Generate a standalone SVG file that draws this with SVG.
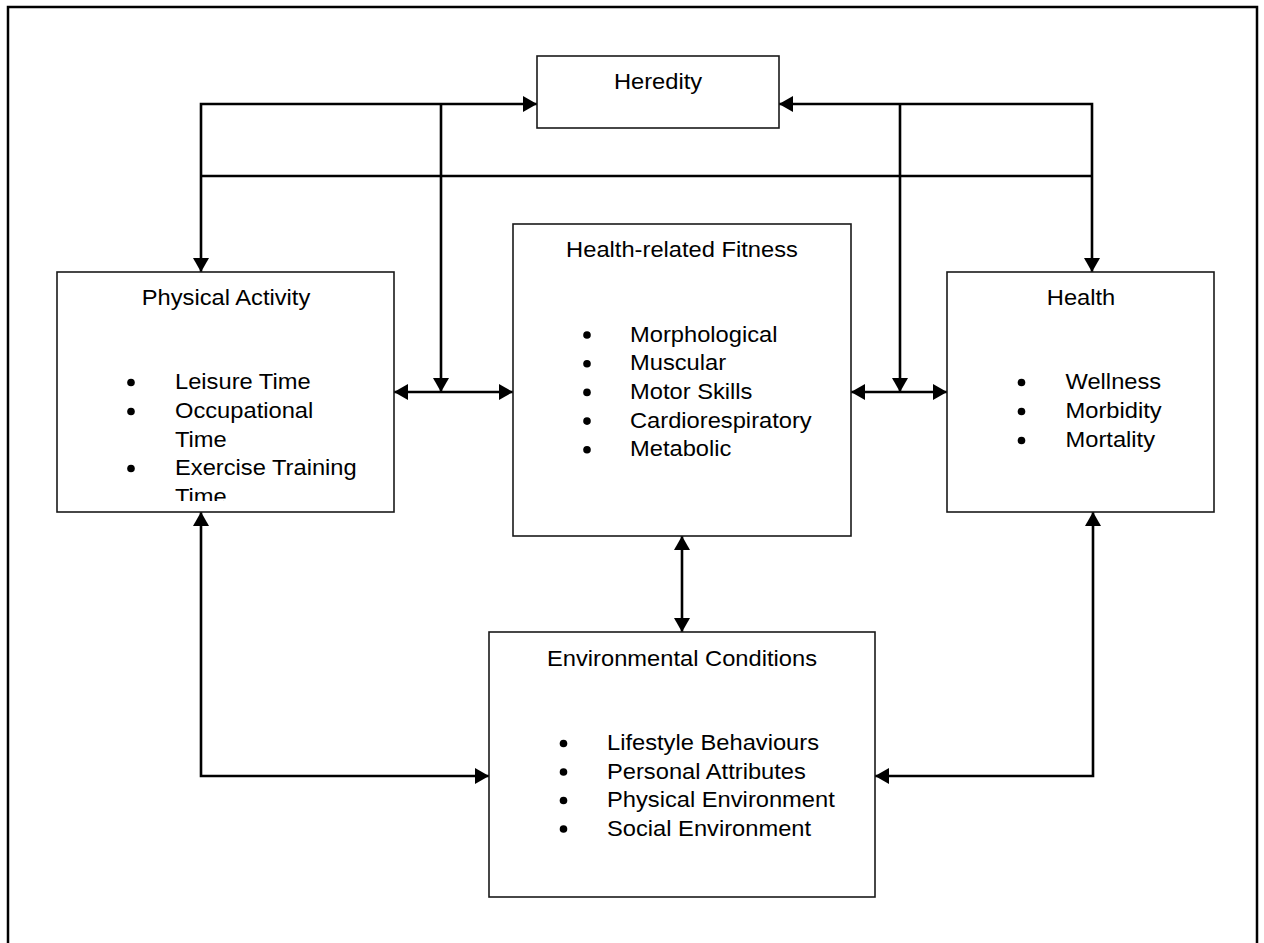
<svg xmlns="http://www.w3.org/2000/svg" width="1264" height="943" viewBox="0 0 1264 943">
  <style>
    .frame { fill: none; stroke: #000; stroke-width: 2.5; }
    .box { fill: #fff; stroke: #1a1a1a; stroke-width: 1.6; }
    .link { fill: none; stroke: #000; stroke-width: 2.6; }
    .t { font-family: "Liberation Sans", Arial, sans-serif; font-size: 22px; fill: #000; }
    .c { text-anchor: middle; }
    .dot { fill: #000; }
  </style>
  <defs>
    <marker id="arrow" viewBox="0 0 14 16" refX="14" refY="8" markerWidth="14" markerHeight="16" markerUnits="userSpaceOnUse" orient="auto-start-reverse">
      <path d="M0 0 L14 8 L0 16 Z" fill="#000"/>
    </marker>
    <clipPath id="paClip">
      <rect x="57" y="272" width="337" height="229"/>
    </clipPath>
  </defs>

  <!-- page frame, open at the bottom -->
  <path class="frame" d="M8 943 V7 H1257 V943"/>

  <!-- connectors -->
  <g id="connectors">
    <!-- Heredity to Physical Activity -->
    <path class="link" d="M201 272 V104 H537" marker-start="url(#arrow)" marker-end="url(#arrow)"/>
    <!-- Heredity to Health -->
    <path class="link" d="M1092 272 V104 H779" marker-start="url(#arrow)" marker-end="url(#arrow)"/>
    <!-- cross bar joining both branches -->
    <path class="link" d="M201 176 H1092"/>
    <!-- Heredity drops onto the side links -->
    <path class="link" d="M441 104 V392" marker-end="url(#arrow)"/>
    <path class="link" d="M900 104 V392" marker-end="url(#arrow)"/>
    <!-- Physical Activity <-> Health-related Fitness -->
    <path class="link" d="M394 392 H513" marker-start="url(#arrow)" marker-end="url(#arrow)"/>
    <!-- Health-related Fitness <-> Health -->
    <path class="link" d="M851 392 H947" marker-start="url(#arrow)" marker-end="url(#arrow)"/>
    <!-- Health-related Fitness <-> Environmental Conditions -->
    <path class="link" d="M682 536 V632" marker-start="url(#arrow)" marker-end="url(#arrow)"/>
    <!-- Physical Activity <-> Environmental Conditions -->
    <path class="link" d="M201 512 V776 H489" marker-start="url(#arrow)" marker-end="url(#arrow)"/>
    <!-- Health <-> Environmental Conditions -->
    <path class="link" d="M1093 512 V776 H875" marker-start="url(#arrow)" marker-end="url(#arrow)"/>
  </g>

  <g id="heredity">
    <rect class="box" x="537" y="56" width="242" height="72"/>
    <text class="t c" transform="translate(658 89) scale(1.077 1)">Heredity</text>
  </g>

  <g id="physical-activity">
    <rect class="box" x="57" y="272" width="337" height="240"/>
    <text class="t c" transform="translate(226 305) scale(1.077 1)">Physical Activity</text>
    <g clip-path="url(#paClip)">
      <circle class="dot" cx="131" cy="382.5" r="3.8"/>
      <circle class="dot" cx="131" cy="411.5" r="3.8"/>
      <circle class="dot" cx="131" cy="468.5" r="3.8"/>
      <text class="t" transform="translate(175 389) scale(1.077 1)">Leisure Time</text>
      <text class="t" transform="translate(175 418) scale(1.077 1)">Occupational</text>
      <text class="t" transform="translate(175 446.5) scale(1.077 1)">Time</text>
      <text class="t" transform="translate(175 475) scale(1.077 1)">Exercise Training</text>
      <text class="t" transform="translate(175 504) scale(1.077 1)">Time</text>
    </g>
  </g>

  <g id="health-related-fitness">
    <rect class="box" x="513" y="224" width="338" height="312"/>
    <text class="t c" transform="translate(682 257) scale(1.077 1)">Health-related Fitness</text>
    <circle class="dot" cx="587" cy="335" r="3.8"/>
    <circle class="dot" cx="587" cy="363.7" r="3.8"/>
    <circle class="dot" cx="587" cy="392.4" r="3.8"/>
    <circle class="dot" cx="587" cy="421.1" r="3.8"/>
    <circle class="dot" cx="587" cy="449.8" r="3.8"/>
    <text class="t" transform="translate(630 341.5) scale(1.077 1)">Morphological</text>
    <text class="t" transform="translate(630 370.2) scale(1.077 1)">Muscular</text>
    <text class="t" transform="translate(630 398.9) scale(1.077 1)">Motor Skills</text>
    <text class="t" transform="translate(630 427.6) scale(1.077 1)">Cardiorespiratory</text>
    <text class="t" transform="translate(630 456.3) scale(1.077 1)">Metabolic</text>
  </g>

  <g id="health">
    <rect class="box" x="947" y="272" width="267" height="240"/>
    <text class="t c" transform="translate(1081 305) scale(1.077 1)">Health</text>
    <circle class="dot" cx="1021.5" cy="382.5" r="3.8"/>
    <circle class="dot" cx="1021.5" cy="411.5" r="3.8"/>
    <circle class="dot" cx="1021.5" cy="440.5" r="3.8"/>
    <text class="t" transform="translate(1065.5 389) scale(1.077 1)">Wellness</text>
    <text class="t" transform="translate(1065.5 418) scale(1.077 1)">Morbidity</text>
    <text class="t" transform="translate(1065.5 447) scale(1.077 1)">Mortality</text>
  </g>

  <g id="environmental-conditions">
    <rect class="box" x="489" y="632" width="386" height="265"/>
    <text class="t c" transform="translate(682 666) scale(1.077 1)">Environmental Conditions</text>
    <circle class="dot" cx="563.5" cy="743.5" r="3.8"/>
    <circle class="dot" cx="563.5" cy="772" r="3.8"/>
    <circle class="dot" cx="563.5" cy="800.5" r="3.8"/>
    <circle class="dot" cx="563.5" cy="829" r="3.8"/>
    <text class="t" transform="translate(607 750) scale(1.077 1)">Lifestyle Behaviours</text>
    <text class="t" transform="translate(607 778.5) scale(1.077 1)">Personal Attributes</text>
    <text class="t" transform="translate(607 807) scale(1.077 1)">Physical Environment</text>
    <text class="t" transform="translate(607 835.5) scale(1.077 1)">Social Environment</text>
  </g>
</svg>
